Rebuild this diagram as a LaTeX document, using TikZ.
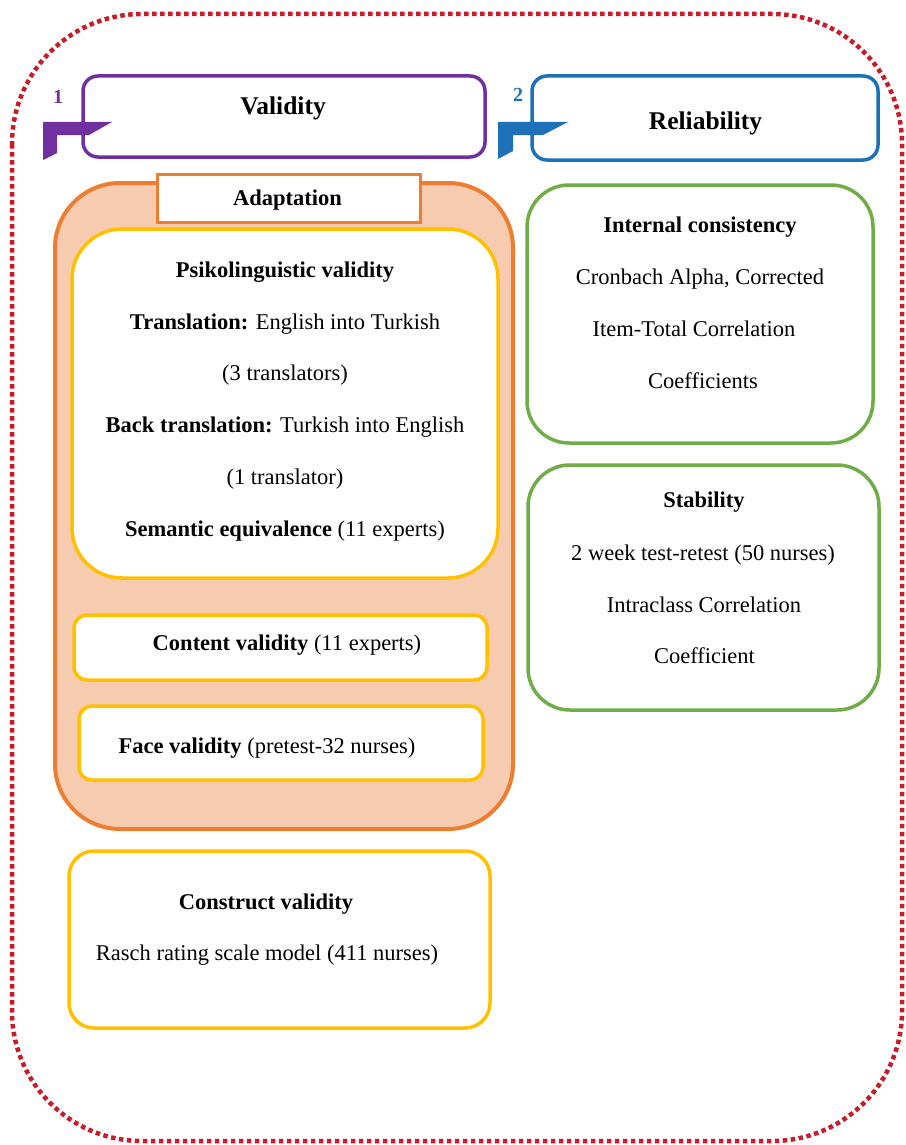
\documentclass[tikz,border=0pt]{standalone}
\usepackage{fontspec}
\setmainfont{Liberation Serif}
\definecolor{cpurple}{RGB}{112,48,160}
\definecolor{cblue}{RGB}{30,112,184}
\definecolor{corange}{RGB}{237,125,49}
\definecolor{cpeach}{RGB}{246,203,176}
\definecolor{cyellow}{RGB}{255,192,0}
\definecolor{cgreen}{RGB}{112,173,71}
\definecolor{cred}{RGB}{195,30,42}
\begin{document}
\begin{tikzpicture}[x=1pt,y=-1pt,
  box/.style={draw, line width=3.5pt, inner sep=0pt, rounded corners=#1},
  box/.default=15pt,
  txt/.style={anchor=base, inner sep=0pt, font=\fontsize{22.5}{27}\selectfont},
  ttl/.style={anchor=base, inner sep=0pt, font=\fontsize{25.5}{30}\selectfont\bfseries},
  num/.style={anchor=base, inner sep=0pt, font=\fontsize{20}{23}\selectfont\bfseries}
]
\useasboundingbox (0,0) rectangle (905,1145);

% dotted outer border
\draw[cred, line width=4.5pt, dash pattern=on 4.5pt off 3.5pt, rounded corners=130pt]
  (12,14) rectangle (902,1141);

% header boxes
\node[box, draw=cpurple, minimum width=402pt, minimum height=81pt] (val) at (284,116.5) {};
\node[ttl] (valt) at (283,115) {Validity};
\fill[cpurple] (43,122) -- (112,122) -- (89,135) -- (57,135) -- (57,153) -- (43,160) -- cycle;
\node[num, text=cpurple] (n1) at (58,103) {1};

\node[box, draw=cblue, minimum width=346pt, minimum height=84pt] (rel) at (705,118) {};
\node[ttl] (relt) at (705.5,130) {Reliability};
\fill[cblue] (498,122) -- (568,122) -- (543,135) -- (513,135) -- (513,151) -- (498,159) -- cycle;
\node[num, text=cblue] (n2) at (518,102) {2};

% adaptation group
\node[box=65pt, draw=corange, fill=cpeach, line width=4pt, minimum width=458pt, minimum height=646pt] (adapt) at (284,506) {};
\node[box=0pt, draw=corange, fill=white, line width=3pt, minimum width=263pt, minimum height=48pt] (adaptl) at (288.5,198) {};
\node[txt, font=\fontsize{22.5}{27}\selectfont\bfseries] (adaptt) at (287.5,205) {Adaptation};

\node[box=50pt, draw=cyellow, fill=white, minimum width=426pt, minimum height=349pt] (psi) at (285,403.5) {};
\node[txt] (p1) at (285,277) {\textbf{Psikolinguistic validity}};
\node[txt] (p2) at (285,329) {\textbf{Translation:} English into Turkish};
\node[txt] (p3) at (285,380) {(3 translators)};
\node[txt] (p4) at (285,432) {\textbf{Back translation:} Turkish into English};
\node[txt] (p5) at (285,484) {(1 translator)};
\node[txt] (p6) at (285,536) {\textbf{Semantic equivalence} (11 experts)};

\node[box=13pt, draw=cyellow, fill=white, minimum width=413pt, minimum height=65pt] (cont) at (280.5,647.5) {};
\node[txt] (contt) at (287,650) {\textbf{Content validity} (11 experts)};

\node[box=13pt, draw=cyellow, fill=white, minimum width=404pt, minimum height=74pt] (face) at (281,743) {};
\node[txt] (facet) at (267,753) {\textbf{Face validity} (pretest-32 nurses)};

% construct validity
\node[box=25pt, draw=cyellow, fill=white, minimum width=421pt, minimum height=177pt] (cons) at (279.5,939.5) {};
\node[txt] (c1) at (266,909) {\textbf{Construct validity}};
\node[txt] (c2) at (267,960) {Rasch rating scale model (411 nurses)};

% reliability column
\node[box=42pt, draw=cgreen, fill=white, minimum width=346pt, minimum height=258pt] (inter) at (700,314) {};
\node[txt] (i1) at (700,232) {\textbf{Internal consistency}};
\node[txt] (i2) at (700,284) {Cronbach Alpha, Corrected};
\node[txt] (i3) at (694,336) {Item-Total Correlation};
\node[txt] (i4) at (703,388) {Coefficients};

\node[box=42pt, draw=cgreen, fill=white, minimum width=351pt, minimum height=245pt] (stab) at (703.5,587.5) {};
\node[txt] (s1) at (704,507) {\textbf{Stability}};
\node[txt] (s2) at (703,560) {2 week test-retest (50 nurses)};
\node[txt] (s3) at (704,612) {Intraclass Correlation};
\node[txt] (s4) at (704.5,663) {Coefficient};
\end{tikzpicture}
\end{document}
